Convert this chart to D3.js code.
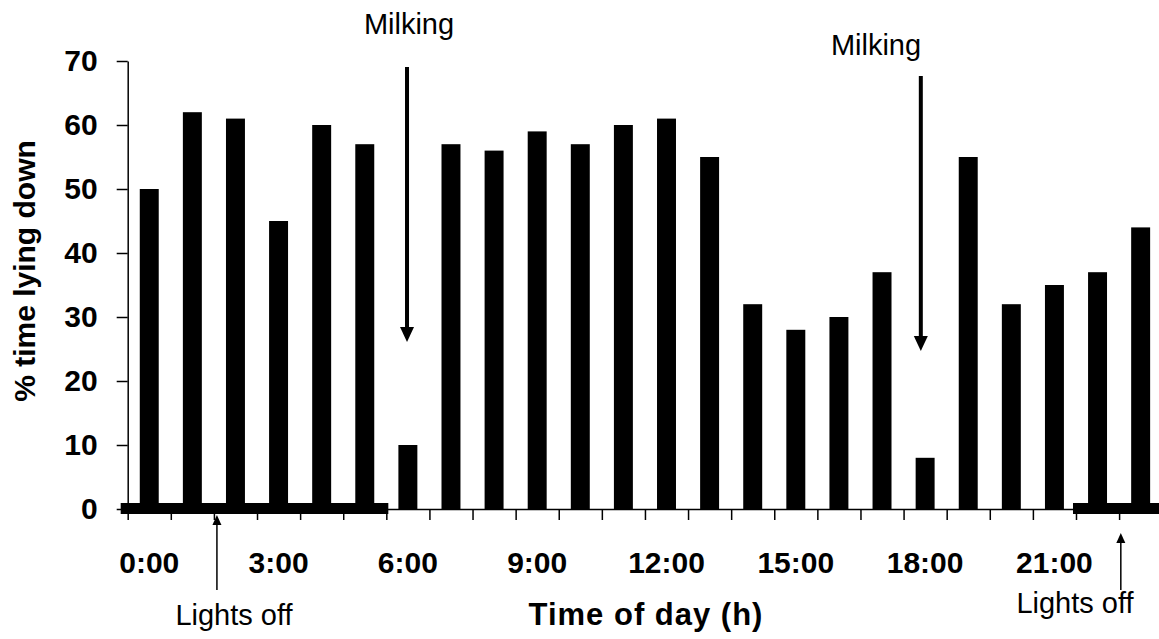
<!DOCTYPE html>
<html>
<head>
<meta charset="utf-8">
<script src="https://cdn.jsdelivr.net/npm/d3@7/dist/d3.min.js"></script>
<style>
body { margin: 0; background: #fff; }
svg { display: block; }
text { font-family: "Liberation Sans", Arial, sans-serif; fill: #000; }
</style>
</head>
<body>
<svg id="chart" width="1159" height="639"></svg>
<script>
//hourly % time lying down, one bar per hour of the day
var hours = d3.range(0, 24);
var lyingPct = [50, 62, 61, 45, 60, 57, 10, 57, 56, 59, 57, 60,
                61, 55, 32, 28, 30, 37, 8, 55, 32, 35, 37, 44];

//tick labels
var yTicks = [0, 10, 20, 30, 40, 50, 60, 70];
var xLabelHours = [0, 3, 6, 9, 12, 15, 18, 21];

//lights off periods (hours) and annotation events
var lightsOff = [[0, 6], [22, 24]];
var milkingHours = [6.48, 18.4];
var lightsOffMarks = [2.07, 23.04];

var svg = d3.select("#chart");

//plot area
var x0 = 127.7, x1 = 1162.2, yTop = 61, yBase = 509;

//hour scale and band scale for the bars
var hx = d3.scaleLinear().domain([0, 24]).range([x0, x1]);
var x = d3.scaleBand()
  .domain(hours)
  .range([x0, x1])
  .paddingInner(0.56)
  .paddingOuter(0.28);

var y = d3.scaleLinear().domain([0, 70]).range([yBase, yTop]);

//bars
svg.append("g").selectAll("rect")
  .data(lyingPct)
  .enter().append("rect")
  .attr("x", function(d, i) { return x(hours[i]); })
  .attr("y", function(d) { return y(d); })
  .attr("width", x.bandwidth())
  .attr("height", function(d) { return y(0) - y(d); })
  .attr("fill", "#000");

//y axis
var yAxis = svg.append("g")
  .attr("transform", "translate(" + x0 + ",0)")
  .call(d3.axisLeft(y).tickValues(yTicks).tickSize(11).tickSizeOuter(0).tickPadding(19));
yAxis.select(".domain").attr("stroke", "#000").attr("stroke-width", 1.5);
yAxis.selectAll(".tick line").attr("stroke", "#000").attr("stroke-width", 1.5);
yAxis.selectAll(".tick text")
  .style("font-family", "'Liberation Sans', Arial, sans-serif")
  .style("font-size", "30px")
  .style("font-weight", "bold")
  .attr("fill", "#000");

//x axis: ticks at hour boundaries
var xAxis = svg.append("g")
  .attr("transform", "translate(0," + yBase + ")")
  .call(d3.axisBottom(hx).tickValues(d3.range(0, 25)).tickSize(11).tickSizeOuter(0).tickFormat(""));
xAxis.select(".domain").attr("stroke", "#000").attr("stroke-width", 1.5);
xAxis.selectAll(".tick line").attr("stroke", "#000").attr("stroke-width", 1.5);

//x tick labels centered on the bars
svg.append("g").selectAll("text")
  .data(xLabelHours)
  .enter().append("text")
  .attr("x", function(d) { return x(d) + x.bandwidth() / 2; })
  .attr("y", 573)
  .attr("text-anchor", "middle")
  .style("font-size", "30px")
  .style("font-weight", "bold")
  .text(function(d) { return d + ":00"; });

//thick line for lights-off periods
svg.append("g").selectAll("rect")
  .data(lightsOff)
  .enter().append("rect")
  .attr("x", function(d) { return d[0] == 0 ? hx(d[0]) - 7 : hx(d[0]) - 3; })
  .attr("y", yBase - 6)
  .attr("width", function(d) { return hx(d[1]) - hx(d[0]) + (d[0] == 0 ? 9 : 3); })
  .attr("height", 11)
  .attr("fill", "#000");

//axis titles
svg.append("text")
  .attr("transform", "translate(35,271) rotate(-90)")
  .attr("text-anchor", "middle")
  .style("font-size", "30px")
  .style("font-weight", "bold")
  .text("% time lying down");

svg.append("text")
  .attr("x", 646)
  .attr("y", 625)
  .attr("text-anchor", "middle")
  .style("font-size", "31px")
  .style("font-weight", "bold")
  .style("letter-spacing", "1px")
  .text("Time of day (h)");

//milking arrows (pointing down)
var milkTop = [67, 76], milkTip = [342, 351], milkText = [[409, 34], [876, 55]];
milkingHours.forEach(function(h, i) {
  var ax = hx(h);
  svg.append("line")
    .attr("x1", ax).attr("x2", ax)
    .attr("y1", milkTop[i]).attr("y2", milkTip[i] - 14)
    .attr("stroke", "#000").attr("stroke-width", 4);
  svg.append("path")
    .attr("d", "M" + (ax - 7) + "," + (milkTip[i] - 15) + "L" + (ax + 7) + "," + (milkTip[i] - 15) + "L" + ax + "," + milkTip[i] + "Z")
    .attr("fill", "#000");
  svg.append("text")
    .attr("x", milkText[i][0])
    .attr("y", milkText[i][1])
    .attr("text-anchor", "middle")
    .style("font-size", "29px")
    .text("Milking");
});

//lights off arrows (pointing up)
var lightTip = [515, 533], lightText = [[234, 625], [1075, 613]];
lightsOffMarks.forEach(function(h, i) {
  var ax = hx(h);
  svg.append("line")
    .attr("x1", ax).attr("x2", ax)
    .attr("y1", lightTip[i] + 8).attr("y2", 590)
    .attr("stroke", "#000").attr("stroke-width", 1.5);
  svg.append("path")
    .attr("d", "M" + (ax - 4.5) + "," + (lightTip[i] + 10) + "L" + (ax + 4.5) + "," + (lightTip[i] + 10) + "L" + ax + "," + lightTip[i] + "Z")
    .attr("fill", "#000");
  svg.append("text")
    .attr("x", lightText[i][0])
    .attr("y", lightText[i][1])
    .attr("text-anchor", "middle")
    .style("font-size", "29px")
    .text("Lights off");
});
</script>
</body>
</html>
